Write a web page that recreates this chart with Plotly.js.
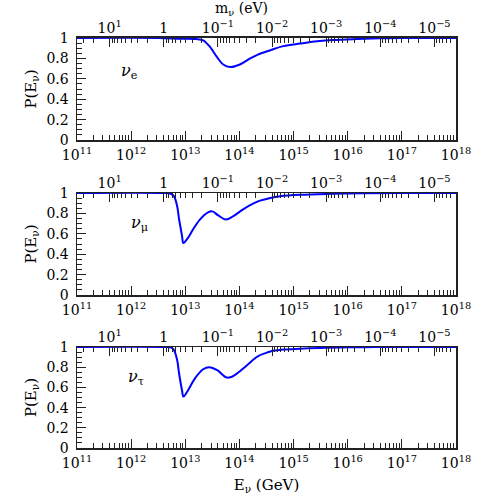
<!DOCTYPE html>
<html>
<head>
<meta charset="utf-8">
<script src="https://cdn.plot.ly/plotly-3.0.1.min.js"></script>
<style>
  html, body { margin: 0; padding: 0; background: #fff; }
  #plot { width: 497px; height: 497px; }
</style>
</head>
<body>
<div id="plot"></div>
<script>
// energies (GeV) and survival probability
const energyE = [1e11, 3.16e12, 7.94e12, 1.58e13, 2.14e13, 2.88e13, 3.89e13, 5.01e13, 6.76e13, 1.02e14,
    1.58e14, 2.24e14, 3.72e14, 6.46e14, 1.32e15, 2.75e15, 5.37e15, 1.51e16, 3.98e16, 1e17, 1e18];
const probE = [1, 1, 0.993, 0.99, 0.977, 0.91, 0.81, 0.74, 0.716, 0.74,
    0.80, 0.84, 0.88, 0.92, 0.945, 0.967, 0.98, 0.99, 0.997, 1, 1];

const energyMu = [1e11, 3.98e12, 5.25e12, 6.17e12, 7.08e12, 7.67e12, 8.71e12, 9.23e12, 1.12e13, 1.38e13,
    1.86e13, 2.63e13, 3.16e13, 4.07e13, 5.62e13, 7.59e13, 1.17e14, 1.78e14, 2.40e14, 3.72e14,
    5.62e14, 1.32e15, 5.37e15, 2.0e16, 1e17, 1e18];
const probMu = [1, 1, 0.995, 0.97, 0.87, 0.745, 0.58, 0.51, 0.56, 0.64,
    0.74, 0.81, 0.82, 0.78, 0.74, 0.77, 0.84, 0.895, 0.925, 0.952,
    0.968, 0.982, 0.992, 0.998, 1, 1];

const energyTau = [1e11, 3.98e12, 5.50e12, 6.17e12, 7.08e12, 7.67e12, 8.71e12, 9.23e12, 1.12e13, 1.51e13,
    2.14e13, 2.75e13, 3.89e13, 5.62e13, 6.76e13, 9.12e13, 1.38e14, 2.14e14, 3.02e14,
    4.17e14, 6.46e14, 1.32e15, 3.98e15, 2.0e16, 1e17, 1e18];
const probTau = [1, 1, 0.995, 0.97, 0.87, 0.74, 0.57, 0.51, 0.57, 0.69,
    0.78, 0.80, 0.77, 0.70, 0.70, 0.74, 0.82, 0.905, 0.94,
    0.962, 0.975, 0.983, 0.992, 0.998, 1, 1];

// axis ticks
const energyTicks = [1e11, 1e12, 1e13, 1e14, 1e15, 1e16, 1e17, 1e18];
const energyTickText = ['10<sup>11</sup>', '10<sup>12</sup>', '10<sup>13</sup>', '10<sup>14</sup>',
    '10<sup>15</sup>', '10<sup>16</sup>', '10<sup>17</sup>', '10<sup>18</sup>'];
const massTicks = [10, 1, 0.1, 0.01, 1e-3, 1e-4, 1e-5];
const massTickText = ['10<sup>1</sup>', '1', '10<sup>\u22121</sup>', '10<sup>\u22122</sup>',
    '10<sup>\u22123</sup>', '10<sup>\u22124</sup>', '10<sup>\u22125</sup>'];
const massRange = [40, 4e-6]; // eV at the left and right edge
const energyRange = [1e11, 1e18];

const flavours = ['<i>\u03bd</i><sub>e</sub>', '<i>\u03bd</i><sub>\u03bc</sub>', '<i>\u03bd</i><sub>\u03c4</sub>'];
const labelPos = [[9.5e11, 0.67], [1.45e12, 0.70], [1.25e12, 0.70]];

const FONT = 'DejaVu Serif';
const LINE = '#222';
const domains = [[0.7368, 0.9809], [0.366, 0.610], [0, 0.2416]];

function sfx(n) {
    return n === 1 ? '' : String(n);
}

function energyAxis(n, showTitle) {
    return {
        type: 'log',
        range: [Math.log10(energyRange[0]), Math.log10(energyRange[1])],
        anchor: 'y' + sfx(n),
        domain: [0, 1],
        tickmode: 'array',
        tickvals: energyTicks,
        ticktext: energyTickText,
        ticks: 'inside',
        ticklen: 9,
        tickcolor: LINE,
        tickwidth: 1,
        minor: { dtick: 'D1', ticks: 'inside', ticklen: 5, tickcolor: LINE, showgrid: false },
        showline: true,
        linecolor: LINE,
        linewidth: 1.5,
        showgrid: false,
        zeroline: false,
        ticklabelstandoff: 2,
        tickfont: { family: FONT, size: 14, color: '#000' },
        title: showTitle ? { text: 'E<sub>\u03bd</sub> (GeV)', font: { family: FONT, size: 15, color: '#000' }, standoff: 9 } : { text: '' }
    };
}

function massAxis(n) {
    return {
        type: 'log',
        overlaying: 'x' + sfx(n),
        anchor: 'y' + sfx(n),
        side: 'top',
        range: [Math.log10(massRange[0]), Math.log10(massRange[1])],
        tickmode: 'array',
        tickvals: massTicks,
        ticktext: massTickText,
        ticks: 'inside',
        ticklen: 9,
        tickcolor: LINE,
        tickwidth: 1,
        minor: { dtick: 'D1', ticks: 'inside', ticklen: 5, tickcolor: LINE, showgrid: false },
        showline: true,
        linecolor: LINE,
        linewidth: 1.5,
        showgrid: false,
        zeroline: false,
        ticklabelstandoff: -2,
        tickfont: { family: FONT, size: 14, color: '#000' }
    };
}

function probAxis(n) {
    return {
        domain: domains[n - 1],
        anchor: 'x' + sfx(n),
        range: [0, 1],
        dtick: 0.2,
        ticks: 'inside',
        ticklen: 9,
        tickcolor: LINE,
        minor: { dtick: 0.05, ticks: 'inside', ticklen: 5, tickcolor: LINE, showgrid: false },
        showline: true,
        mirror: true,
        linecolor: LINE,
        linewidth: 1.5,
        showgrid: false,
        zeroline: false,
        ticklabelstandoff: 4,
        tickfont: { family: FONT, size: 14, color: '#000' },
        title: { text: 'P(E<sub>\u03bd</sub>)', font: { family: FONT, size: 15, color: '#000' }, standoff: 6 }
    };
}

function plotSurvival() {
    const series = [[energyE, probE], [energyMu, probMu], [energyTau, probTau]];
    const traces = series.map((s, i) => ({
        x: s[0],
        y: s[1],
        xaxis: 'x' + sfx(i + 1),
        yaxis: 'y' + sfx(i + 1),
        type: 'scatter',
        mode: 'lines',
        line: { color: '#0000ff', width: 2, shape: 'spline', smoothing: 1 },
        hoverinfo: 'skip',
        showlegend: false
    }));
    // empty traces so the top mass axes get drawn
    for (let i = 0; i < 3; i++) {
        traces.push({
            x: massTicks,
            y: massTicks.map(() => null),
            xaxis: 'x' + (i + 4),
            yaxis: 'y' + sfx(i + 1),
            type: 'scatter',
            mode: 'lines',
            hoverinfo: 'skip',
            showlegend: false
        });
    }

    const layout = {
        width: 497,
        height: 497,
        margin: { l: 77, r: 41, t: 30, b: 49 },
        paper_bgcolor: '#fff',
        plot_bgcolor: '#fff',
        showlegend: false,
        xaxis: energyAxis(1, false),
        xaxis2: energyAxis(2, false),
        xaxis3: energyAxis(3, true),
        xaxis4: massAxis(1),
        xaxis5: massAxis(2),
        xaxis6: massAxis(3),
        yaxis: probAxis(1),
        yaxis2: probAxis(2),
        yaxis3: probAxis(3),
        annotations: []
    };

    flavours.forEach((f, i) => {
        layout.annotations.push({
            text: f,
            x: Math.log10(labelPos[i][0]),
            y: labelPos[i][1],
            xref: 'x' + sfx(i + 1),
            yref: 'y' + sfx(i + 1),
            showarrow: false,
            font: { family: FONT, size: 16, color: '#000' }
        });
    });
    layout.annotations.push({
        text: 'm<sub>\u03bd</sub> (eV)',
        x: 0.435, y: 1.05,
        xref: 'paper', yref: 'paper',
        yanchor: 'middle',
        showarrow: false,
        font: { family: FONT, size: 14, color: '#000' }
    });

    Plotly.newPlot('plot', traces, layout, { staticPlot: true, displayModeBar: false });
}

plotSurvival();
</script>
</body>
</html>
